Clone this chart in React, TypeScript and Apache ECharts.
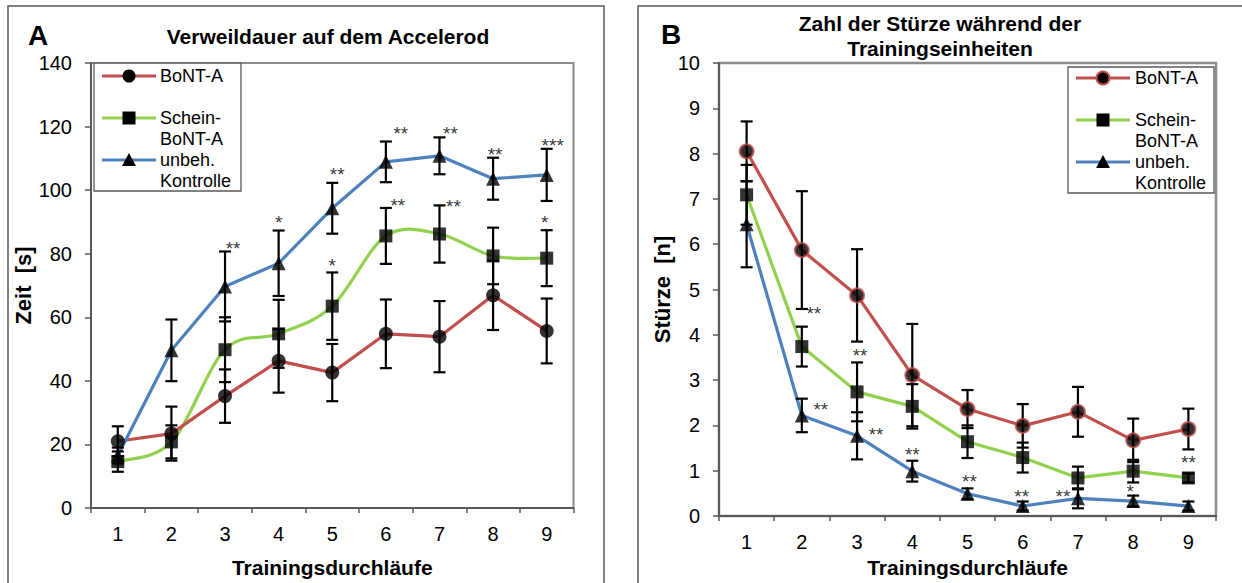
import React, { useEffect, useRef } from "react";
import * as echarts from "echarts";

const categories = ["1", "2", "3", "4", "5", "6", "7", "8", "9"];

// Panel A: Verweildauer (s)
const aBont = [21.0, 23.4, 35.2, 46.3, 42.6, 54.8, 53.9, 66.9, 55.7];
const aBontErr = [4.7, 8.5, 8.4, 10.0, 9.0, 10.8, 11.2, 10.9, 10.2];
const aSchein = [14.6, 20.8, 49.8, 54.8, 63.5, 85.6, 86.2, 79.3, 78.6];
const aScheinErr = [3.2, 5.2, 10.2, 10.7, 10.6, 8.8, 9.0, 8.9, 8.8];
const aKontrolle = [16.5, 49.6, 69.7, 77.0, 94.3, 108.9, 110.8, 103.6, 104.8];
const aKontrolleErr = [2.5, 9.7, 11.0, 10.3, 8.0, 6.4, 5.8, 6.6, 8.2];

// Panel A significance marks
const aStarIdx = [2, 3, 4, 4, 5, 5, 6, 6, 7, 8, 8];
const aStarY = [82.8, 91.0, 106.2, 77.6, 119, 96.3, 119, 96, 112.6, 115.3, 91];
const aStarText = ["**", "*", "**", "*", "**", "**", "**", "**", "**", "***", "*"];
const aStarDx = [8, 0, 5, 0, 15, 12, 11, 14, 2, 6, -2];

// Panel B: Zahl der Stürze
const bBont = [8.05, 5.87, 4.87, 3.11, 2.36, 1.99, 2.3, 1.67, 1.92];
const bBontErr = [0.66, 1.3, 1.02, 1.13, 0.42, 0.48, 0.55, 0.48, 0.45];
const bSchein = [7.09, 3.74, 2.74, 2.42, 1.64, 1.29, 0.84, 0.99, 0.84];
const bScheinErr = [0.66, 0.44, 0.65, 0.49, 0.36, 0.33, 0.25, 0.25, 0.1];
const bKontrolle = [6.44, 2.22, 1.77, 0.99, 0.49, 0.22, 0.39, 0.33, 0.22];
const bKontrolleErr = [0.95, 0.37, 0.52, 0.23, 0.12, 0.1, 0.22, 0.12, 0.1];

const bStarIdx = [1, 1, 2, 2, 3, 4, 5, 6, 7, 8];
const bStarY = [4.56, 2.45, 3.64, 1.89, 1.44, 0.86, 0.51, 0.51, 0.62, 1.27];
const bStarText = ["**", "**", "**", "**", "**", "**", "**", "**", "*", "**"];
const bStarDx = [12, 19, 3, 19, 0, 2, -1, -15, -3, 0];

const aYTicks = { min: 0, max: 140, interval: 20 };
const bYTicks = { min: 0, max: 10, interval: 1 };

const RED = "#C0504D";
const GREEN = "#92D050";
const BLUE = "#4F81BD";
const FONT = '"Liberation Sans", Arial, sans-serif';

const errRender = (params: any, api: any) => {
  const i = api.value(0);
  const m = api.value(1);
  const e = api.value(2);
  const top = api.coord([i, m + e]);
  const bot = api.coord([i, m - e]);
  const w = 6;
  const style = { stroke: "#000", lineWidth: 2.2 };
  return {
    type: "group",
    children: [
      { type: "line", shape: { x1: top[0], y1: top[1], x2: bot[0], y2: bot[1] }, style },
      { type: "line", shape: { x1: top[0] - w, y1: top[1], x2: top[0] + w, y2: top[1] }, style },
      { type: "line", shape: { x1: bot[0] - w, y1: bot[1], x2: bot[0] + w, y2: bot[1] }, style },
    ],
  };
};

// Excel-like smoothed segment (Catmull-Rom style Bezier) between point i and i+1
const smoothRender = (color: string) => (params: any, api: any) => {
  const i = api.value(0);
  const n = api.value(5);
  if (i >= n - 1) return null;
  const p0 = api.coord([Math.max(i - 1, 0), api.value(1)]);
  const p1 = api.coord([i, api.value(2)]);
  const p2 = api.coord([i + 1, api.value(3)]);
  const p3 = api.coord([Math.min(i + 2, n - 1), api.value(4)]);
  return {
    type: "bezierCurve",
    shape: {
      x1: p1[0],
      y1: p1[1],
      cpx1: p1[0] + (p2[0] - p0[0]) / 6,
      cpy1: p1[1] + (p2[1] - p0[1]) / 6,
      cpx2: p2[0] - (p3[0] - p1[0]) / 6,
      cpy2: p2[1] - (p3[1] - p1[1]) / 6,
      x2: p2[0],
      y2: p2[1],
    },
    style: { stroke: color, lineWidth: 3.2, fill: "none" },
  };
};

function seriesFor(
  grid: number,
  name: string,
  vals: number[],
  errs: number[],
  color: string,
  symbol: string,
  symbolSize: number,
  smooth: boolean,
  markerBorder: boolean
) {
  const n = vals.length;
  const lineSeries = smooth
    ? {
        type: "custom",
        name,
        xAxisIndex: grid,
        yAxisIndex: grid,
        renderItem: smoothRender(color),
        encode: { x: 0, y: 2 },
        data: vals.map((v, i) => [
          i,
          vals[Math.max(i - 1, 0)],
          v,
          vals[Math.min(i + 1, n - 1)],
          vals[Math.min(i + 2, n - 1)],
          n,
        ]),
        z: 2,
      }
    : {
        type: "line",
        name,
        xAxisIndex: grid,
        yAxisIndex: grid,
        data: vals,
        showSymbol: false,
        symbol: "none",
        lineStyle: { color, width: 3.2 },
        itemStyle: { color },
        z: 2,
      };
  return [
    lineSeries,
    {
      type: "custom",
      name: name + " err",
      xAxisIndex: grid,
      yAxisIndex: grid,
      renderItem: errRender,
      encode: { x: 0, y: 1 },
      data: vals.map((v, i) => [i, v, errs[i]]),
      z: 3,
    },
    {
      type: "scatter",
      name: name + " pts",
      xAxisIndex: grid,
      yAxisIndex: grid,
      data: vals,
      symbol,
      symbolSize,
      itemStyle: markerBorder
        ? { color: "#000", borderColor: color, borderWidth: 2 }
        : { color: "#000" },
      z: 4,
    },
  ];
}

function starSeries(grid: number, idx: number[], ys: number[], texts: string[], dxs: number[]) {
  return {
    type: "scatter",
    xAxisIndex: grid,
    yAxisIndex: grid,
    symbol: "circle",
    symbolSize: 1,
    itemStyle: { color: "rgba(0,0,0,0)" },
    data: idx.map((x, k) => ({
      value: [x, ys[k]],
      name: texts[k],
      label: { offset: [dxs[k], 4] },
    })),
    label: {
      show: true,
      position: "inside",
      formatter: (p: any) => p.name,
      fontSize: 19,
      fontFamily: FONT,
      color: "#000",
    },
    z: 5,
  };
}

function legendGraphic(
  box: { x: number; y: number; w: number; h: number },
  lineX1: number,
  lineX2: number,
  textX: number,
  rows: number[][],
  circleBorder: boolean
) {
  const children: any[] = [
    {
      type: "rect",
      shape: { x: box.x, y: box.y, width: box.w, height: box.h },
      style: { fill: "#fff", stroke: "#595959", lineWidth: 1.3 },
    },
  ];
  const labels = [["BoNT-A"], ["Schein-", "BoNT-A"], ["unbeh.", "Kontrolle"]];
  const colors = [RED, GREEN, BLUE];
  const mx = (lineX1 + lineX2) / 2;
  labels.forEach((lines, k) => {
    const y = rows[k][0];
    children.push({
      type: "line",
      shape: { x1: lineX1, y1: y, x2: lineX2, y2: y },
      style: { stroke: colors[k], lineWidth: 3.2 },
    });
    if (k === 0) {
      children.push({
        type: "circle",
        shape: { cx: mx, cy: y, r: 6.5 },
        style: circleBorder ? { fill: "#000", stroke: RED, lineWidth: 2 } : { fill: "#000" },
      });
    } else if (k === 1) {
      children.push({
        type: "rect",
        shape: { x: mx - 6.5, y: y - 6.5, width: 13, height: 13 },
        style: { fill: "#000" },
      });
    } else {
      children.push({
        type: "polygon",
        shape: { points: [[mx, y - 7], [mx + 7, y + 6], [mx - 7, y + 6]] },
        style: { fill: "#000" },
      });
    }
    lines.forEach((t, j) => {
      children.push({
        type: "text",
        x: textX,
        y: rows[k][j],
        style: {
          text: t,
          fontSize: 18,
          fontFamily: FONT,
          fill: "#000",
          align: "left",
          verticalAlign: "middle",
        },
      });
    });
  });
  return { type: "group", z: 100, children };
}

function axisPair(gridIndex: number, yt: { min: number; max: number; interval: number }, yName: string, yGap: number, xGap: number) {
  const axisLine = { show: true, lineStyle: { color: "#595959", width: 2 } };
  return {
    x: {
      type: "category",
      gridIndex,
      data: categories,
      boundaryGap: true,
      axisLine,
      axisTick: { show: true, alignWithLabel: false, length: 5, lineStyle: { color: "#595959", width: 1.5 } },
      axisLabel: { color: "#000", fontSize: 20, fontFamily: FONT, margin: 16 },
      name: "Trainingsdurchläufe",
      nameLocation: "middle",
      nameGap: xGap,
      nameTextStyle: { color: "#000", fontSize: 21, fontWeight: "bold", fontFamily: FONT },
      splitLine: { show: false },
    },
    y: {
      type: "value",
      gridIndex,
      min: yt.min,
      max: yt.max,
      interval: yt.interval,
      axisLine,
      axisTick: { show: true, inside: false, length: 6, lineStyle: { color: "#595959", width: 1.5 } },
      axisLabel: { color: "#000", fontSize: 20, fontFamily: FONT, margin: 19 },
      splitLine: { show: false },
      name: yName,
      nameLocation: "middle",
      nameGap: yGap,
      nameTextStyle: { color: "#000", fontSize: 22, fontWeight: "bold", fontFamily: FONT },
    },
  };
}

export default function App() {
  const ref = useRef<HTMLDivElement>(null);
  useEffect(() => {
    if (!ref.current) return;
    const chart = echarts.init(ref.current, undefined, { renderer: "svg" });
    const a = axisPair(0, aYTicks, "Zeit  [s]", 47, 49);
    const b = axisPair(1, bYTicks, "Stürze  [n]", 32, 41);
    const textStyle = (size: number) => ({
      fontSize: size,
      fontWeight: "bold",
      fontFamily: FONT,
      fill: "#000",
      align: "center",
      verticalAlign: "middle",
    });
    const option: any = {
      animation: false,
      backgroundColor: "#fff",
      grid: [
        { left: 91, right: 668.5, top: 63, bottom: 74, show: true, borderColor: "#8c8c8c", borderWidth: 2, backgroundColor: "#fff" },
        { left: 719, right: 26, top: 63, bottom: 66, show: true, borderColor: "#8c8c8c", borderWidth: 2.5, backgroundColor: "#fff" },
      ],
      xAxis: [a.x, b.x],
      yAxis: [a.y, b.y],
      series: [
        ...seriesFor(0, "BoNT-A", aBont, aBontErr, RED, "circle", 14, false, false),
        ...seriesFor(0, "Schein-BoNT-A", aSchein, aScheinErr, GREEN, "rect", 13, true, false),
        ...seriesFor(0, "unbeh. Kontrolle", aKontrolle, aKontrolleErr, BLUE, "triangle", 14, false, false),
        starSeries(0, aStarIdx, aStarY, aStarText, aStarDx),
        ...seriesFor(1, "BoNT-A", bBont, bBontErr, RED, "circle", 14, false, true),
        ...seriesFor(1, "Schein-BoNT-A", bSchein, bScheinErr, GREEN, "rect", 13, false, false),
        ...seriesFor(1, "unbeh. Kontrolle", bKontrolle, bKontrolleErr, BLUE, "triangle", 14, false, false),
        starSeries(1, bStarIdx, bStarY, bStarText, bStarDx),
      ],
      graphic: [
        {
          type: "rect",
          z: -10,
          shape: { x: 8, y: 6, width: 596, height: 600 },
          style: { fill: "none", stroke: "#5a5a5a", lineWidth: 1.5 },
        },
        {
          type: "rect",
          z: -10,
          shape: { x: 638, y: 6, width: 620, height: 600 },
          style: { fill: "none", stroke: "#5a5a5a", lineWidth: 1.5 },
        },
        { type: "text", x: 38, y: 35, style: { ...textStyle(28), text: "A" } },
        { type: "text", x: 671, y: 34, style: { ...textStyle(28), text: "B" } },
        { type: "text", x: 328, y: 36, style: { ...textStyle(21), text: "Verweildauer auf dem Accelerod" } },
        { type: "text", x: 940, y: 23, style: { ...textStyle(21), text: "Zahl der Stürze während der" } },
        { type: "text", x: 940, y: 48, style: { ...textStyle(21), text: "Trainingseinheiten" } },
        legendGraphic({ x: 94, y: 63, w: 147, h: 128 }, 102, 156, 160, [[76], [118, 139], [160, 181]], false),
        legendGraphic({ x: 1068, y: 67, w: 146, h: 126 }, 1076, 1130, 1135, [[78], [120, 141], [162, 183]], true),
      ],
    };
    chart.setOption(option);
    return () => chart.dispose();
  }, []);
  return (
    <div
      ref={ref}
      style={{ position: "fixed", left: 0, top: 0, width: 1242, height: 583, background: "#fff" }}
    />
  );
}
